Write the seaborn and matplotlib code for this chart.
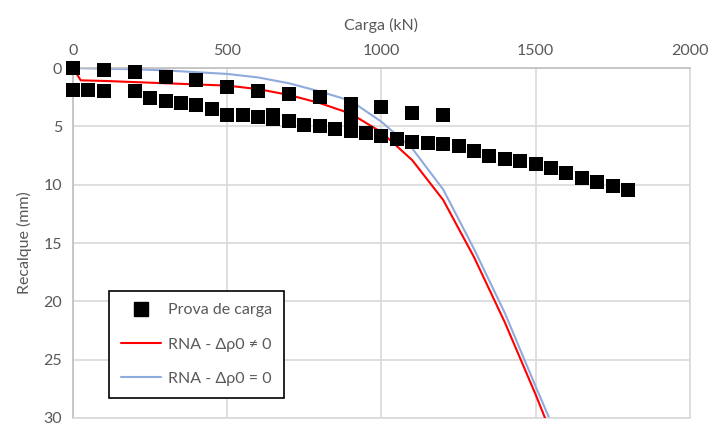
import matplotlib
matplotlib.use("Agg")
import matplotlib.pyplot as plt
import seaborn as sns
import pandas as pd
from matplotlib.lines import Line2D

# --- data ---
carga_pontos = [0, 100, 200, 300, 400, 500, 600, 700, 800, 900, 900, 1000, 1100, 1200,
                0, 50, 100, 200, 250, 300, 350, 400, 450, 500, 550, 600, 650, 650, 700,
                750, 800, 850, 900, 950, 1000, 1050, 1100, 1150, 1200, 1250, 1300, 1350,
                1400, 1450, 1500, 1550, 1600, 1650, 1700, 1750, 1800]
recalque_pontos = [0, 0.2, 0.3, 0.75, 1.05, 1.6, 2.0, 2.25, 2.5, 3.1, 4.17, 3.35, 3.85, 4.05,
                   1.85, 1.9, 1.97, 1.97, 2.6, 2.8, 2.97, 3.17, 3.5, 4.0, 4.03, 4.17, 4.0, 4.4, 4.5,
                   4.9, 5.0, 5.2, 5.4, 5.6, 5.8, 6.1, 6.3, 6.45, 6.5, 6.7, 7.1, 7.5,
                   7.8, 8.0, 8.2, 8.6, 9.0, 9.4, 9.8, 10.1, 10.45]

carga_rna1 = [0, 25, 100, 200, 300, 400, 500, 600, 700, 800, 900, 1000, 1100, 1200, 1300, 1400, 1500, 1550]
recalque_rna1 = [0, 1.05, 1.1, 1.2, 1.3, 1.4, 1.5, 1.8, 2.3, 3.0, 3.9, 5.5, 7.9, 11.3, 16.2, 21.8, 28.0, 31.3]

carga_rna2 = [0, 100, 200, 300, 400, 500, 600, 700, 800, 900, 1000, 1100, 1200, 1300, 1400, 1500, 1560]
recalque_rna2 = [0, 0.05, 0.1, 0.2, 0.35, 0.5, 0.8, 1.3, 2.0, 2.8, 4.6, 6.9, 10.4, 15.5, 21.0, 27.3, 31.0]

x_ticks = [0, 500, 1000, 1500, 2000]
y_ticks = [0, 5, 10, 15, 20, 25, 30]

lbl_pts = "Prova de carga"
lbl_r1 = "RNA - Δρ0 ≠ 0"
lbl_r2 = "RNA - Δρ0 = 0"

df_pts = pd.DataFrame({"carga": carga_pontos, "recalque": recalque_pontos})
df_r1 = pd.DataFrame({"carga": carga_rna1, "recalque": recalque_rna1})
df_r2 = pd.DataFrame({"carga": carga_rna2, "recalque": recalque_rna2})

sns.set_style("white")
plt.rcParams["font.family"] = ["Lato", "DejaVu Sans"]

grey = "#595959"
red = "#FF0000"
blue = "#8FAADC"
fs = 11.5

fig = plt.figure(figsize=(7.09, 4.23), dpi=100)
ax = fig.add_axes([0.103, 0.012, 0.870, 0.827])

sns.lineplot(data=df_r2, x="carga", y="recalque", ax=ax, color=blue, linewidth=1.5,
             sort=False, estimator=None, zorder=2)
sns.lineplot(data=df_r1, x="carga", y="recalque", ax=ax, color=red, linewidth=1.5,
             sort=False, estimator=None, zorder=3)
sns.scatterplot(data=df_pts, x="carga", y="recalque", ax=ax, marker="s", s=95,
                color="black", edgecolor="black", linewidth=0, zorder=4, clip_on=False)

ax.set_xlim(0, 2000)
ax.set_ylim(30, 0)
ax.set_xticks(x_ticks)
ax.set_yticks(y_ticks)
ax.xaxis.tick_top()
ax.xaxis.set_label_position("top")
ax.set_xlabel("Carga (kN)", fontsize=fs, color=grey, labelpad=10)
ax.set_ylabel("Recalque (mm)", fontsize=fs, color=grey, labelpad=8)
ax.tick_params(axis="both", labelsize=fs, colors=grey, length=0, pad=8)
ax.tick_params(axis="x", pad=7)

ax.grid(True, color="#D9D9D9", linewidth=1.2)
ax.set_axisbelow(True)
for side in ["top", "left"]:
    ax.spines[side].set_visible(True)
    ax.spines[side].set_color("#BFBFBF")
    ax.spines[side].set_linewidth(1.2)
for side in ["bottom", "right"]:
    ax.spines[side].set_visible(True)
    ax.spines[side].set_color("#D9D9D9")
    ax.spines[side].set_linewidth(1.2)

handles = [
    Line2D([], [], marker="s", color="black", linestyle="none", markersize=9.5),
    Line2D([], [], color=red, linewidth=1.5),
    Line2D([], [], color=blue, linewidth=1.5),
]
leg = ax.legend(handles, [lbl_pts, lbl_r1, lbl_r2], loc="lower left",
                bbox_to_anchor=(0.045, 0.035), fontsize=fs, frameon=True,
                fancybox=False, edgecolor="black", framealpha=1,
                handlelength=2.5, labelspacing=1.25, borderpad=0.75, handletextpad=0.45)
leg.get_frame().set_linewidth(1.2)
for t in leg.get_texts():
    t.set_color(grey)

fig.savefig("out.png", dpi=100)
